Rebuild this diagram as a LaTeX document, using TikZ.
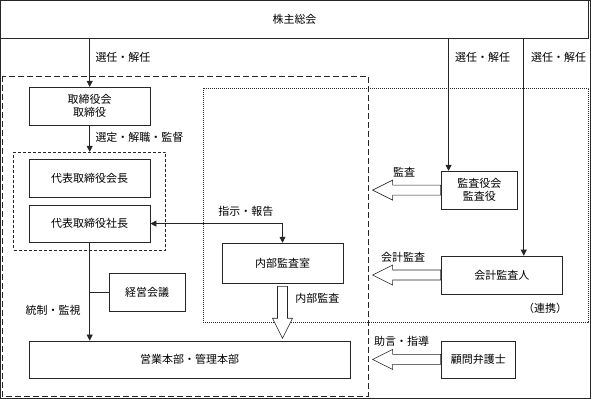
\documentclass[tikz,border=0pt]{standalone}
\usepackage{fontspec}
\setmainfont{Noto Sans CJK JP}
\usepackage{tikz}
\usetikzlibrary{arrows.meta,calc}

\begin{document}
\begin{tikzpicture}[
  x=1pt, y=-1pt,
  font=\fontsize{11}{13}\selectfont,
  every path/.style={draw=black!85, line width=0.6pt},
  box/.style={draw, fill=white, minimum height=38, inner sep=1pt, align=center},
  lab/.style={anchor=west, inner sep=0pt},
  arr/.style={-{Triangle[length=6pt,width=6pt]}},
  biarr/.style={{Triangle[length=6pt,width=6pt]}-{Triangle[length=6pt,width=6pt]}},
  hollow/.style={draw, fill=white, line join=miter}
]
\useasboundingbox (0,0) rectangle (591,398);

% frames
\draw[dash pattern=on 6pt off 3pt] (2,76) rectangle (368,396);
\draw[dash pattern=on 0.8pt off 1.2pt] (203,88) rectangle (589,322);

% boxes
\node[box, minimum width=589] (soukai) at (294.5,19) {株主総会};
\node[box, minimum width=121] (torishimari) at (89.5,106) {取締役会\\取締役};
\node[draw, dash pattern=on 3pt off 2pt, minimum width=152, minimum height=98] (daihyo) at (89.5,201) {};
\node[box, minimum width=121] (kaicho) at (89.5,178) {代表取締役会長};
\node[box, minimum width=121, minimum height=37] (shacho) at (89.5,223.5) {代表取締役社長};
\node[box, minimum width=121, minimum height=40] (naibu) at (282.5,263) {内部監査室};
\node[box, minimum width=76] (keiei) at (147,292) {経営会議};
\node[box, minimum width=321, minimum height=37] (eigyo) at (189.5,359.5) {営業本部・管理本部};
\node[box, minimum width=77] (kansayaku) at (479.5,190) {監査役会\\監査役};
\node[box, minimum width=122] (kaikei) at (502,275) {会計監査人};
\node[box, minimum width=75, minimum height=37] (bengoshi) at (478.5,359.5) {顧問弁護士};

% connectors
\coordinate (kansatop) at ($(kansayaku.north west)+(8,0)$);
\coordinate (kaikeitop) at ($(kaikei.north)+(22,0)$);
\draw[arr] (soukai.south -| torishimari) -- (torishimari.north);
\draw[arr] (soukai.south -| kansatop) -- (kansatop);
\draw[arr] (soukai.south -| kaikeitop) -- (kaikeitop);
\draw[arr] (torishimari.south) -- (daihyo.north);
\draw[biarr] (shacho.east) -| (naibu.north);
\draw[arr] (shacho.south) -- (eigyo.north -| shacho);
\draw (keiei.west) -- (keiei.west -| shacho);

% hollow arrows
\foreach \n in {kansayaku,kaikei,bengoshi}
  \draw[hollow] ($(\n.west)+(0,-5)$) -- ++(-48,0) -- ++(0,-5) -- ++(-20,10)
    -- ++(20,10) -- ++(0,-5) -- ++(48,0) -- cycle;
\draw[hollow] ($(naibu.south)+(-5,3)$) -- ++(0,32) -- ++(-5,0) -- ++(10,20)
  -- ++(10,-20) -- ++(-5,0) -- ++(0,-32) -- cycle;

% labels
\node[lab] (l1) at (95,57) {選任・解任};
\node[lab] (l2) at (455,57) {選任・解任};
\node[lab] (l3) at (531,57) {選任・解任};
\node[lab] (l4) at (95,137) {選定・解職・監督};
\node[lab] (l5) at (218,211) {指示・報告};
\node[lab] (l6) at (295,298) {内部監査};
\node[lab] (l7) at (25,310) {統制・監視};
\node[lab] (l8) at (393,172) {監査};
\node[lab] (l9) at (381,257) {会計監査};
\node[lab] (l10) at (523,308) {（連携）};
\node[lab] (l11) at (374,341) {助言・指導};
\end{tikzpicture}
\end{document}
